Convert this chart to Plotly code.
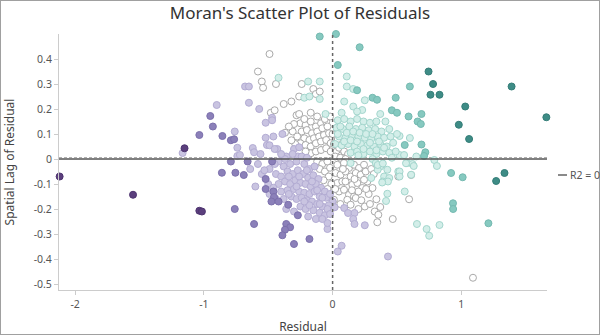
import plotly.graph_objects as go

# ---------------- data (Residual, Spatial Lag of Residual) ----------------
# dark purple
dp_x = [-2.12, -1.55, -1.035, -1.015, -1.15]
dp_y = [-0.07, -0.143, -0.207, -0.21, 0.043]

# medium purple
mp_x = [-1.035, -0.95, -0.93, -0.856, -0.79, -0.765, -0.79, -0.66, -0.47, -0.86, -0.755, -0.69,
        -0.52, -0.52, -0.46, -0.455, -0.475, -0.76, -0.42, -0.345, -0.61, -0.36, -0.33, -0.37,
        -0.39, -0.30, -0.18, -0.27]
mp_y = [0.096, 0.172, 0.13, 0.092, 0.075, 0.079, -0.01, -0.01, -0.01, -0.055, -0.055, -0.064,
        -0.08, -0.12, -0.13, -0.152, -0.17, -0.2, -0.17, -0.183, -0.26, -0.26, -0.273, -0.283,
        -0.305, -0.34, -0.32, -0.225]

# light purple
lp_x = [-1.165, -0.90, -0.68, -0.65, -0.65, -0.57, -0.47, -0.47, -0.52, -0.39, -0.76, -0.52,
        -0.46, -0.51, -0.49, -0.43, -0.45, -0.74, -0.62, -0.61, -0.30, -0.26, -0.36, -0.27,
        -0.24, -0.74, -0.72, -0.04, -0.04, 0.0, 0.016, 0.09, 0.12, 0.17, 0.16, 0.17, 0.25,
        0.07, 0.04, 0.43,
        -0.58, -0.49, -0.42, -0.38, -0.33, -0.28, -0.22, -0.18, -0.14,
        -0.44, -0.40, -0.35, -0.31, -0.27, -0.23, -0.19, -0.15, -0.11,
        -0.42, -0.37, -0.33, -0.29, -0.25, -0.21, -0.17, -0.13, -0.09, -0.06,
        -0.40, -0.35, -0.30, -0.26, -0.22, -0.18, -0.14, -0.10, -0.05, -0.02,
        -0.32, -0.28, -0.24, -0.20, -0.16, -0.12, -0.08, -0.03,
        -0.25, -0.21, -0.15, -0.10, -0.06, -0.13, -0.19,
        -0.55, -0.50, -0.46, -0.44, -0.38, -0.36, -0.30, -0.49,
        -0.37, -0.31, -0.20, -0.56, -0.64, -0.60, -0.53,
        -0.45, -0.40, -0.34, -0.26, -0.20, -0.16, -0.12, -0.08, -0.04, -0.10, -0.18, -0.28,
        -0.34, -0.22, -0.02, -0.08]
lp_y = [0.024, 0.216, 0.29, 0.29, 0.225, 0.20, 0.165, 0.155, 0.145, 0.10, 0.11, 0.085,
        0.09, 0.056, 0.055, 0.04, 0.04, 0.045, 0.044, 0.027, 0.04, 0.047, 0.01, 0.01,
        0.01, 0.012, 0.016, -0.28, -0.256, -0.17, -0.193, -0.196, -0.216, -0.216, -0.24, -0.26, -0.265,
        -0.347, -0.37, -0.39,
        -0.02, -0.04, -0.01, -0.03, -0.02, -0.01, -0.02, -0.04, -0.03,
        -0.06, -0.07, -0.05, -0.06, -0.045, -0.06, -0.075, -0.065, -0.08,
        -0.10, -0.09, -0.10, -0.085, -0.095, -0.10, -0.11, -0.10, -0.115, -0.13,
        -0.13, -0.125, -0.12, -0.13, -0.135, -0.14, -0.13, -0.15, -0.155, -0.14,
        -0.15, -0.16, -0.155, -0.165, -0.17, -0.18, -0.19, -0.185,
        -0.19, -0.20, -0.205, -0.215, -0.225, -0.24, -0.23,
        -0.06, -0.10, -0.115, -0.16, -0.16, -0.2, -0.21, -0.14,
        0.0, 0.02, 0.005, 0.02, -0.04, -0.11, -0.045,
        -0.02, 0.02, -0.07, -0.07, -0.045, -0.09, -0.125, -0.155, -0.2, -0.18, -0.185, -0.11,
        -0.14, -0.17, -0.22, -0.24]

# hollow (near zero)
h_x = [-0.49, -0.58, -0.55, -0.44, -0.54, -0.24, -0.15, -0.13, -0.10, -0.26, -0.32, -0.38,
       -0.48, -0.45, -0.28, -0.26, -0.17, -0.37, -0.31,
       -0.25, -0.21, -0.17, -0.13, -0.09, -0.05, -0.24, -0.20, -0.16, -0.12, -0.08, -0.04,
       -0.275, -0.22, -0.18, -0.145, -0.105, -0.067, -0.028, -0.25, -0.21, -0.17, -0.13, -0.09,
       -0.05, -0.015, -0.17, -0.13, -0.09, -0.05, -0.015, -0.21,
       0.01, 0.03, 0.05, 0.07, 0.09, 0.02, 0.04, 0.0, 0.06, 0.12, 0.10,
       0.036, 0.088, 0.127, 0.166, 0.205, 0.244, 0.023, 0.062, 0.10, 0.14, 0.18, 0.218, 0.257,
       0.036, 0.075, 0.114, 0.153, 0.192, 0.23, 0.27, 0.05, 0.088, 0.127, 0.166, 0.01, 0.114,
       0.18, 0.223, 0.14, 0.34, 0.37, 0.327, 0.355, 0.347, 0.467, 0.594, 0.244, 0.31,
       0.61, 0.51, 1.09,
       -0.12, -0.08, -0.04, -0.10, -0.06, -0.02, -0.03, -0.07, -0.01, -0.04,
       -0.22, -0.12, -0.06, -0.02, -0.30, -0.34, -0.29, -0.32,
       0.28, 0.25, 0.20, 0.30, 0.29, 0.20, 0.06, 0.10, 0.15, 0.02, 0.26, 0.32, 0.08, 0.17]
h_y = [0.42, 0.35, 0.31, 0.30, 0.285, 0.30, 0.28, 0.26, 0.27, 0.25, 0.23, 0.22,
       0.185, 0.195, 0.175, 0.18, 0.185, 0.105, 0.11,
       0.143, 0.136, 0.15, 0.13, 0.143, 0.15, 0.11, 0.116, 0.103, 0.11, 0.123, 0.13,
       0.09, 0.083, 0.076, 0.083, 0.09, 0.096, 0.103, 0.063, 0.056, 0.05, 0.063, 0.07,
       0.076, 0.063, 0.023, 0.03, 0.036, 0.043, 0.03, 0.03,
       0.06, 0.03, 0.045, 0.015, 0.03, 0.01, 0.08, 0.1, 0.005, 0.02, 0.0,
       -0.023, -0.016, -0.036, -0.023, -0.036, -0.023, -0.056, -0.063, -0.05, -0.07, -0.056, -0.063, -0.05,
       -0.096, -0.09, -0.11, -0.103, -0.096, -0.116, -0.09, -0.13, -0.123, -0.143, -0.15, -0.163, -0.163,
       -0.156, -0.165, -0.183, -0.161, -0.192, -0.21, -0.223, -0.253, -0.24, -0.161, -0.083, -0.116,
       -0.064, -0.07, -0.475,
       -0.01, -0.02, -0.01, -0.04, -0.05, -0.035, -0.07, -0.085, -0.1, -0.12,
       0.16, 0.17, 0.16, 0.17, 0.14, 0.13, 0.06, 0.075,
       -0.14, -0.19, -0.2, -0.04, -0.18, -0.13, -0.18, -0.09, -0.125, -0.12, -0.12, -0.06, -0.04, -0.08]

# light teal
lt_x = [-0.42, -0.19, -0.10, -0.22, -0.18, -0.10, -0.055, 0.11, 0.11, 0.16, 0.09, 0.25, 0.16,
        0.23, 0.19, 0.07, 0.37, 0.41, 0.60, 0.52, 0.65, 0.52, 0.79, 0.81, 0.56, 0.415, 0.425,
        0.51, 0.655, 0.73, 0.75, 0.83, 1.52,
        0.04, 0.09, 0.14, 0.19, 0.24, 0.29, 0.34,
        0.03, 0.08, 0.13, 0.18, 0.23, 0.28, 0.33, 0.38,
        0.05, 0.10, 0.15, 0.20, 0.25, 0.30, 0.35, 0.40, 0.44,
        0.02, 0.07, 0.12, 0.17, 0.22, 0.27, 0.32, 0.37, 0.42, 0.47,
        0.14, 0.19, 0.24, 0.29, 0.34, 0.39, 0.44, 0.49, 0.31, 0.46,
        0.14, 0.335, 0.37, 0.35, 0.425, 0.40, 0.44, 0.39, 0.52, 0.52, 0.61, 0.30, 0.58, 0.62,
        0.35, 0.39, 0.43, 0.385, 0.555, 0.57, 0.63,
        0.06, 0.11, 0.16, 0.21, 0.26, 0.31, 0.36, 0.09, 0.14, 0.19, 0.24, 0.29, 0.34, 0.40,
        0.45, 0.50, 0.04, 0.20]
lt_y = [0.325, 0.31, 0.31, 0.245, 0.25, 0.24, 0.18, 0.33, 0.29, 0.28, 0.23, 0.235, 0.21,
        0.196, 0.19, 0.185, 0.18, 0.15, 0.084, 0.092, 0.01, 0.016, -0.004, -0.028, -0.13, -0.168, -0.139,
        -0.05, -0.26, -0.28, -0.307, -0.264, -0.525,
        0.155, 0.16, 0.15, 0.16, 0.15, 0.145, 0.15,
        0.125, 0.12, 0.13, 0.12, 0.125, 0.115, 0.12, 0.11,
        0.09, 0.085, 0.095, 0.09, 0.085, 0.08, 0.09, 0.085, 0.12,
        0.06, 0.055, 0.06, 0.05, 0.06, 0.055, 0.05, 0.06, 0.05, 0.065,
        0.025, 0.03, 0.02, 0.03, 0.02, 0.03, 0.025, 0.03, 0.0, 0.005,
        -0.016, -0.016, -0.03, -0.043, -0.043, -0.07, -0.076, -0.09, -0.05, -0.07, -0.063, -0.076, -0.016, -0.02,
        -0.024, -0.018, -0.09, -0.094, 0.016, -0.017, -0.028,
        0.13, 0.105, 0.11, 0.105, 0.1, 0.1, 0.07, 0.07, 0.075, 0.07, 0.04, 0.065, 0.035, 0.045,
        0.09, 0.1, 0.1, 0.015]

# medium teal
mt_x = [0.04, -0.10, 0.026, 0.21, 0.60, 0.31, 0.345, 0.49, 0.19, 0.46, 0.50, 0.59, 0.69,
        0.66, 0.685, 0.56, 0.69, 0.72, 0.71, 0.92, 1.01, 0.935, 0.936, 1.21]
mt_y = [0.376, 0.49, 0.50, 0.447, 0.29, 0.245, 0.237, 0.245, 0.275, 0.195, 0.185, 0.17, 0.18,
        0.15, 0.14, 0.056, 0.058, 0.027, 0.012, -0.056, -0.073, -0.177, -0.20, -0.257]

# dark teal
dt_x = [0.745, 0.78, 0.76, 0.83, 1.39, 1.03, 1.66, 0.98, 1.06, 1.335, 1.27]
dt_y = [0.35, 0.30, 0.257, 0.257, 0.29, 0.21, 0.167, 0.137, 0.08, -0.056, -0.088]

# reference lines
reg_x = [-2.125, 1.665]
reg_y = [0.0, 0.0]
mean_lag = 0.006
r2_label = "R2 = 0"

X_RANGE = [-2.125, 1.665]
Y_RANGE = [-0.524, 0.5]

# ---------------- figure ----------------
fig = go.Figure()


def add_pts(x, y, fill, line):
    fig.add_trace(go.Scatter(
        x=x, y=y, mode="markers", showlegend=False, hoverinfo="skip", cliponaxis=False,
        marker=dict(size=7, color=fill, line=dict(color=line, width=1))))


fig.add_trace(go.Scatter(x=X_RANGE, y=[mean_lag, mean_lag], mode="lines", showlegend=False,
                         line=dict(color="#b0b0b0", width=1, dash="3px,2px"), hoverinfo="skip"))

add_pts(h_x, h_y, "#ffffff", "#a9a9a9")
add_pts(lt_x, lt_y, "#d3eee9", "#a3d6cd")
add_pts(lp_x, lp_y, "#c9c4e1", "#b3acd3")
add_pts(mt_x, mt_y, "#86c9c0", "#74b9b0")
add_pts(mp_x, mp_y, "#8b80b9", "#7c70ac")
add_pts(dt_x, dt_y, "#3e8c86", "#347d77")
add_pts(dp_x, dp_y, "#5b3f7d", "#4e3470")

fig.add_trace(go.Scatter(x=reg_x, y=reg_y, mode="lines", showlegend=False,
                         line=dict(color="#555555", width=1.5), hoverinfo="skip"))

# vertical dashed line at 0
fig.add_shape(type="line", x0=0, x1=0, y0=Y_RANGE[0], y1=Y_RANGE[1], xref="x", yref="y",
              line=dict(color="#666666", width=1.5, dash="3px,3px"))

L, R, T, B = 59, 53, 34, 45
W, H = 600, 335
pw, ph = W - L - R, H - T - B


def px(xp):
    return (xp - L) / pw


def py(yp):
    return (H - B - yp) / ph


# legend-like label
fig.add_shape(type="line", xref="paper", yref="paper", x0=px(558), x1=px(567), y0=py(175), y1=py(175),
              line=dict(color="#8a8a8a", width=2))
fig.add_annotation(xref="paper", yref="paper", x=px(568), y=py(175), text=r2_label, showarrow=False,
                   xanchor="left", yanchor="middle", font=dict(size=10.5, color="#555555"))

# outer border
fig.add_shape(type="rect", xref="paper", yref="paper", x0=px(0), x1=px(600), y0=py(335), y1=py(0),
              line=dict(color="#a0a0a0", width=2))

fig.update_layout(
    width=W, height=H,
    margin=dict(l=L, r=R, t=T, b=B),
    paper_bgcolor="white", plot_bgcolor="white",
    font=dict(family="Noto Sans, Open Sans, sans-serif", color="#555555", size=10.5),
    title=dict(text="Moran's Scatter Plot of Residuals", x=0.5, xanchor="center",
               y=1 - 13 / H, yanchor="middle", yref="container",
               font=dict(size=17, color="#333333")),
    xaxis=dict(range=X_RANGE, showgrid=False, zeroline=False, showline=True, linecolor="#cccccc",
               linewidth=1, ticks="outside", ticklen=4, tickcolor="#cccccc", automargin=False,
               tickvals=[-2, -1, 0, 1], ticktext=["-2", "-1", "0", "1"],
               title=dict(text="Residual", font=dict(size=12, color="#444444"), standoff=16)),
    yaxis=dict(range=Y_RANGE, showgrid=False, zeroline=False, showline=True, linecolor="#cccccc",
               linewidth=1, ticks="outside", ticklen=4, tickcolor="#cccccc", automargin=False,
               tickvals=[-0.5, -0.4, -0.3, -0.2, -0.1, 0, 0.1, 0.2, 0.3, 0.4],
               ticktext=["-0.5", "-0.4", "-0.3", "-0.2", "-0.1", "0", "0.1", "0.2", "0.3", "0.4"],
               title=dict(text="Spatial Lag of Residual", font=dict(size=12, color="#444444"), standoff=16)),
)

fig.write_html("out.html")
